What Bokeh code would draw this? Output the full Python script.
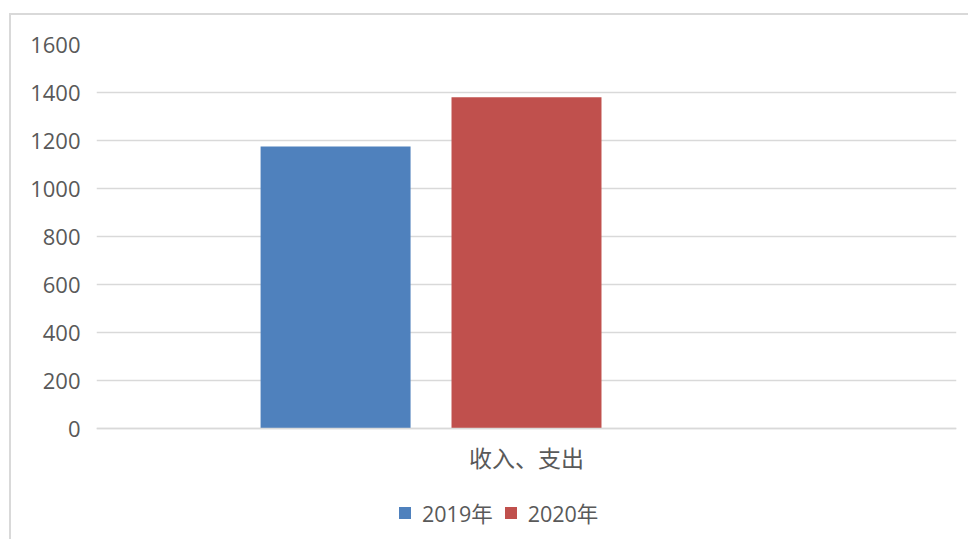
from bokeh.plotting import figure
from bokeh.models import FactorRange, Range1d, FixedTicker, Legend, LegendItem, ColumnDataSource, Spacer
from bokeh.layouts import column, row
from bokeh.transform import dodge
from bokeh.embed import file_html
from bokeh.resources import INLINE

categories = ["收入、支出"]
series_names = ["2019年", "2020年"]
values_2019 = [1175]
values_2020 = [1380]
y_ticks = [0, 200, 400, 600, 800, 1000, 1200, 1400, 1600]

colors = ["#4f81bd", "#c0504d"]
FONT = "Open Sans, Noto Sans CJK SC"
TEXT = "#595959"

W, H = 959, 526
TOP, BOTTOM, LEFT, RIGHT = 29, 11, 85, 14
frame_h = H - TOP - BOTTOM
px_per_unit = (428 - 44) / 1600.0
y_start = 1600 - frame_h / px_per_unit

src = ColumnDataSource(dict(cat=categories, v2019=values_2019, v2020=values_2020))

p = figure(
    x_range=FactorRange(factors=categories, range_padding=0),
    y_range=Range1d(y_start, 1600),
    width=W, height=H,
    output_backend="svg", toolbar_location=None,
    min_border_left=LEFT, min_border_right=RIGHT, min_border_top=TOP, min_border_bottom=BOTTOM,
)
p.styles = {"border-top": "2px solid #d9d9d9", "border-left": "2px solid #d9d9d9"}
p.outline_line_color = None
p.background_fill_color = "white"
p.border_fill_color = "white"

r1 = p.vbar(x=dodge("cat", -0.222, range=p.x_range), top="v2019", bottom=0, width=0.1744,
            source=src, fill_color=colors[0], line_color=None)
r2 = p.vbar(x=dodge("cat", 0.0, range=p.x_range), top="v2020", bottom=0, width=0.1744,
            source=src, fill_color=colors[1], line_color=None)

p.yaxis.ticker = FixedTicker(ticks=y_ticks)
p.yaxis.axis_line_color = None
p.yaxis.major_tick_line_color = None
p.yaxis.minor_tick_line_color = None
p.yaxis.major_tick_out = 0
p.yaxis.major_label_standoff = 16
p.yaxis.major_label_text_font = FONT
p.yaxis.major_label_text_font_size = "22px"
p.yaxis.major_label_text_color = TEXT

p.xaxis.fixed_location = 0
p.xaxis.axis_line_color = "#d9d9d9"
p.xaxis.axis_line_width = 1.5
p.xaxis.major_tick_line_color = None
p.xaxis.minor_tick_line_color = None
p.xaxis.major_tick_out = 0
p.xaxis.major_label_standoff = 13
p.xaxis.major_label_text_font = FONT
p.xaxis.major_label_text_font_size = "23px"
p.xaxis.major_label_text_color = TEXT

p.xgrid.grid_line_color = None
p.ygrid.grid_line_color = "#d9d9d9"
p.ygrid.grid_line_width = 1.5

legend = Legend(
    items=[LegendItem(label=series_names[0], renderers=[r1]),
           LegendItem(label=series_names[1], renderers=[r2])],
    orientation="horizontal",
    location=(301, 2),
    glyph_width=15, glyph_height=15,
    label_standoff=10, spacing=10,
    padding=0, margin=0,
    border_line_color=None, background_fill_alpha=0,
    label_text_font=FONT, label_text_font_size="21.5px", label_text_color=TEXT,
)
p.add_layout(legend, "center")

layout = column(Spacer(height=13), row(Spacer(width=9), p))
open("out.html", "w").write(file_html(layout, INLINE))
